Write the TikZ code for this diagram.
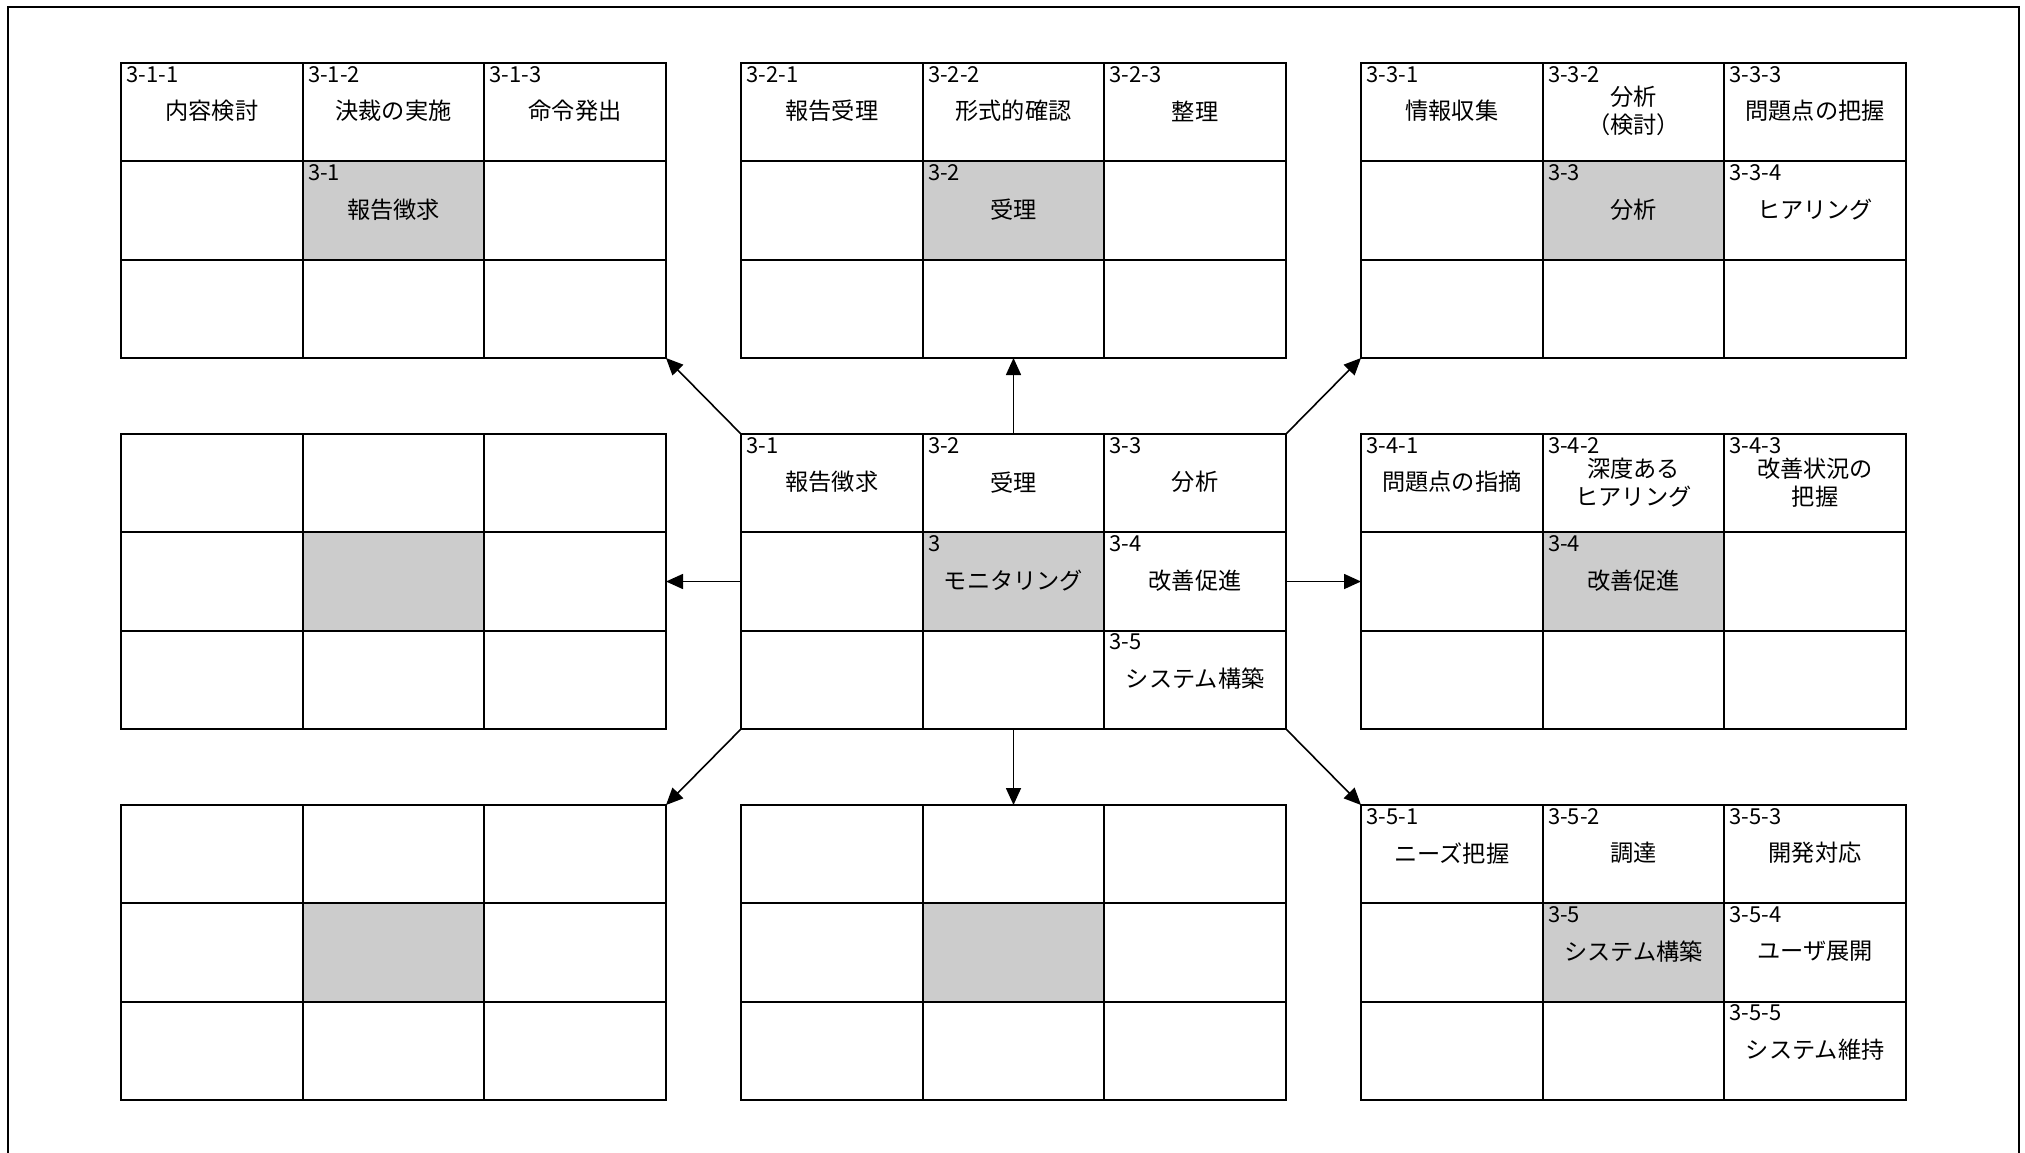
\documentclass[tikz,border=0pt]{standalone}
\usepackage{fontspec}
\setmainfont{Noto Sans CJK JP}
\usetikzlibrary{arrows.meta}
\definecolor{cellgray}{HTML}{CCCCCC}
\newcommand\cellW{181.667}
\newcommand\cellH{98.333}
\tikzset{
  cellbox/.style={draw=black, line width=1pt, rectangle, minimum width=90.83pt,
    minimum height=49.17pt, inner sep=0pt, outer sep=0pt, anchor=north west},
  hubcell/.style={cellbox, fill=cellgray},
  gridbox/.style={rectangle, minimum width=272.5pt, minimum height=147.5pt,
    inner sep=0pt, outer sep=0pt, anchor=north west},
  numlabel/.style={anchor=base west, inner sep=0pt, font=\fontsize{11}{12}\selectfont},
  celltext/.style={anchor=center, inner sep=0pt, align=center,
    font=\fontsize{11.6}{14}\selectfont},
  flow/.style={line width=0.8pt, -{Triangle[length=8.5pt,width=7.5pt]}},
  frameline/.style={line width=1pt}
}
\newcommand\mkgrid[3]{%
  \node[gridbox] (#1) at (#2,#3) {};
  \foreach \r in {1,2,3}{\foreach \c in {1,2,3}{%
    \ifnum\r\c=22 \def\cellsty{hubcell}\else\def\cellsty{cellbox}\fi
    \node[\cellsty] (#1-\r-\c) at ({#2+(\c-1)*\cellW},{#3+(\r-1)*\cellH}) {};}}%
}
\newcommand\cellnote[3]{%
  \node[numlabel] (#1-n) at ([xshift=2.5pt,yshift=-9.5pt]#1.north west) {#2};
  \node[celltext] (#1-t) at ([yshift=0.5pt]#1.center) {#3};%
}
\begin{document}
\begin{tikzpicture}[x=0.5pt,y=-0.5pt]
\useasboundingbox (0,0) rectangle (2025,1152);
% outer frame (bottom edge lies outside the picture)
\coordinate (fbl) at (8,1160);
\coordinate (ftl) at (8,7);
\coordinate (ftr) at (2019,7);
\coordinate (fbr) at (2019,1160);
\draw[frameline] (fbl) -- (ftl) -- (ftr) -- (fbr);
% grids
\mkgrid{G11}{121}{63}
\mkgrid{G12}{741}{63}
\mkgrid{G13}{1361}{63}
\mkgrid{G21}{121}{434}
\mkgrid{G22}{741}{434}
\mkgrid{G23}{1361}{434}
\mkgrid{G31}{121}{805}
\mkgrid{G32}{741}{805}
\mkgrid{G33}{1361}{805}
% texts
\cellnote{G11-1-1}{3-1-1}{内容検討}
\cellnote{G11-1-2}{3-1-2}{決裁の実施}
\cellnote{G11-1-3}{3-1-3}{命令発出}
\cellnote{G11-2-2}{3-1}{報告徴求}
\cellnote{G12-1-1}{3-2-1}{報告受理}
\cellnote{G12-1-2}{3-2-2}{形式的確認}
\cellnote{G12-1-3}{3-2-3}{整理}
\cellnote{G12-2-2}{3-2}{受理}
\cellnote{G13-1-1}{3-3-1}{情報収集}
\cellnote{G13-1-2}{3-3-2}{分析\\（検討）}
\cellnote{G13-1-3}{3-3-3}{問題点の把握}
\cellnote{G13-2-2}{3-3}{分析}
\cellnote{G13-2-3}{3-3-4}{ヒアリング}
\cellnote{G22-1-1}{3-1}{報告徴求}
\cellnote{G22-1-2}{3-2}{受理}
\cellnote{G22-1-3}{3-3}{分析}
\cellnote{G22-2-2}{3}{モニタリング}
\cellnote{G22-2-3}{3-4}{改善促進}
\cellnote{G22-3-3}{3-5}{システム構築}
\cellnote{G23-1-1}{3-4-1}{問題点の指摘}
\cellnote{G23-1-2}{3-4-2}{深度ある\\ヒアリング}
\cellnote{G23-1-3}{3-4-3}{改善状況の\\把握}
\cellnote{G23-2-2}{3-4}{改善促進}
\cellnote{G33-1-1}{3-5-1}{ニーズ把握}
\cellnote{G33-1-2}{3-5-2}{調達}
\cellnote{G33-1-3}{3-5-3}{開発対応}
\cellnote{G33-2-2}{3-5}{システム構築}
\cellnote{G33-2-3}{3-5-4}{ユーザ展開}
\cellnote{G33-3-3}{3-5-5}{システム維持}
% connectors
\draw[flow] (G22.north west) -- (G11.south east);
\draw[flow] (G22.north) -- (G12.south);
\draw[flow] (G22.north east) -- (G13.south west);
\draw[flow] (G22.west) -- (G21.east);
\draw[flow] (G22.east) -- (G23.west);
\draw[flow] (G22.south west) -- (G31.north east);
\draw[flow] (G22.south) -- (G32.north);
\draw[flow] (G22.south east) -- (G33.north west);
\end{tikzpicture}
\end{document}
